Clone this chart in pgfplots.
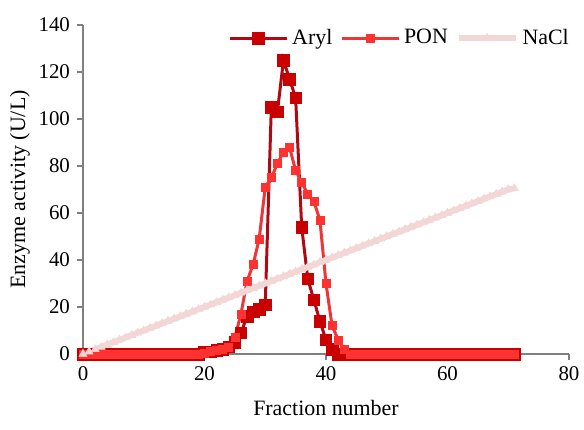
\documentclass[border=0pt]{standalone}
\usepackage{fontspec}
\setmainfont{Liberation Serif}
\usepackage{pgfplots}
\pgfplotsset{compat=1.18}
\usepackage{pgfplotstable}
\definecolor{arylline}{RGB}{175,10,20}
\definecolor{arylfill}{RGB}{200,0,0}
\definecolor{ponline}{RGB}{235,55,55}
\definecolor{ponfill}{RGB}{255,50,50}
\definecolor{nacl}{RGB}{243,214,214}
\definecolor{axgray}{RGB}{128,128,128}

\pgfplotstableread{
x y
0 0
1 0
2 0
3 0
4 0
5 0
6 0
7 0
8 0
9 0
10 0
11 0
12 0
13 0
14 0
15 0
16 0
17 0
18 0
19 0
20 1
21 1
22 1.5
23 2
24 3
25 5
26 9
27 16
28 18
29 19
30 21
31 105
32 103
33 125
34 117
35 109
36 54
37 32
38 23
39 14
40 6
41 2
42 0
43 0
44 0
45 0
46 0
47 0
48 0
49 0
50 0
51 0
52 0
53 0
54 0
55 0
56 0
57 0
58 0
59 0
60 0
61 0
62 0
63 0
64 0
65 0
66 0
67 0
68 0
69 0
70 0
71 0
}\aryl

\pgfplotstableread{
x y
0 0
1 0
2 0
3 0
4 0
5 0
6 0
7 0
8 0
9 0
10 0
11 0
12 0
13 0
14 0
15 0
16 0
17 0
18 0
19 0
20 0.5
21 1
22 1.5
23 2
24 3
25 7
26 17
27 31
28 38
29 49
30 71
31 75
32 81
33 86
34 88
35 78
36 73
37 68
38 65
39 57
40 30
41 12
42 6
43 2
44 0
45 0
46 0
47 0
48 0
49 0
50 0
51 0
52 0
53 0
54 0
55 0
56 0
57 0
58 0
59 0
60 0
61 0
62 0
63 0
64 0
65 0
66 0
67 0
68 0
69 0
70 0
71 0
}\pon

\pgfplotstableread{
x y
0 0
1 1
2 2
3 3
4 4
5 5
6 6
7 7
8 8
9 9
10 10
11 11
12 12
13 13
14 14
15 15
16 16
17 17
18 18
19 19
20 20
21 21
22 22
23 23
24 24
25 25
26 26
27 27
28 28
29 29
30 30
31 31
32 32
33 33
34 34
35 35
36 36
37 37
38 38
39 39
40 40
41 41
42 42
43 43
44 44
45 45
46 46
47 47
48 48
49 49
50 50
51 51
52 52
53 53
54 54
55 55
56 56
57 57
58 58
59 59
60 60
61 61
62 62
63 63
64 64
65 65
66 66
67 67
68 68
69 69
70 70
71 70.5
}\nacl

\begin{document}
\begin{tikzpicture}
\begin{axis}[
  scale only axis,
  width=243bp, height=164.5bp,
  xmin=0, xmax=80, ymin=0, ymax=140,
  xtick={0,20,40,60,80},
  xticklabels={0,20,40,60,80},
  ytick={0,20,40,60,80,100,120,140},
  yticklabels={0,20,40,60,80,100,120,140},
  axis x line=bottom, axis y line=left,
  axis line style={-, axgray, line width=0.75bp},
  tick align=outside,
  major tick length=3bp,
  tick style={axgray, line width=0.75bp},
  clip=false,
  tick label style={font=\rmfamily\fontsize{10.5}{12}\selectfont},
  label style={font=\fontsize{11}{13}\selectfont},
  xlabel={Fraction number},
  ylabel={Enzyme activity (U/L)},
  xlabel style={at={(axis description cs:0.5,0)}, anchor=center, yshift=-27bp},
  ylabel style={at={(axis description cs:0,0.5)}, anchor=center, yshift=31.5bp},
  legend columns=3,
  legend style={draw=none, fill=none, at={(1.021,0.96)}, anchor=east,
    font=\fontsize{11}{13}\selectfont,
    /tikz/every even column/.append style={column sep=2bp}},
  legend cell align=left,
  legend image code/.code={\draw[mark repeat=2,mark phase=2] plot coordinates {(0cm,0cm) (0.5cm,0cm) (1cm,0cm)};},
]
\addplot[color=arylline, line width=1.5bp, mark=square*, mark size=2.9bp, mark options={fill=arylfill, draw=arylfill, line width=0.3bp}] table[x=x,y=y] {\aryl};
\addlegendentry{Aryl}
\addplot[color=ponline, line width=1.5bp, mark=square*, mark size=2bp, mark options={fill=ponfill, draw=ponfill, line width=0.3bp}] table[x=x,y=y] {\pon};
\addlegendentry{PON}
\addplot[color=nacl, line width=3bp, mark=triangle*, mark size=2.3bp, mark options={fill=nacl, draw=nacl, line width=0.3bp}] table[x=x,y=y] {\nacl};
\addlegendentry{NaCl}
\end{axis}
\pgfresetboundingbox
\path[use as bounding box] (-41.5bp,-38bp) rectangle (250.5bp,177bp);
\end{tikzpicture}
\end{document}
